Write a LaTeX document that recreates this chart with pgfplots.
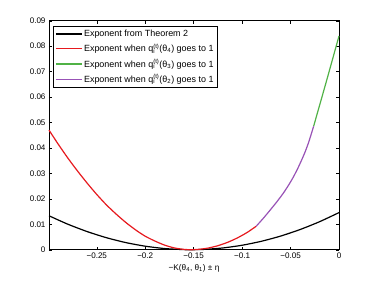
\documentclass[border=0pt]{standalone}
\usepackage{fontspec}
\setmainfont{Liberation Sans}
\usepackage{pgfplots}
\pgfplotsset{compat=1.18}
\definecolor{mred}{RGB}{230,25,30}
\definecolor{mgreen}{RGB}{80,178,70}
\definecolor{mpurple}{RGB}{152,82,182}
\newcommand{\qq}{q\rlap{\textsubscript{i}}\textsuperscript{(t)}}
\begin{document}
\begin{tikzpicture}
\begin{axis}[
  at={(0,0)}, anchor=south west,
  scale only axis, width=290bp, height=229bp,
  xmin=-0.2993, xmax=0, ymin=0, ymax=0.09,
  clip=false,
  xtick={-0.25,-0.2,-0.15,-0.1,-0.05,0},
  xticklabels={−0.25,−0.2,−0.15,−0.1,−0.05,0},
  ytick={0,0.01,0.02,0.03,0.04,0.05,0.06,0.07,0.08,0.09},
  yticklabels={0,0.01,0.02,0.03,0.04,0.05,0.06,0.07,0.08,0.09},
  scaled ticks=false,
  tick align=inside, tick pos=both, major tick length=3bp,
  tick style={black, line width=0.4bp},
  axis line style={black, line width=0.5bp},
  ticklabel style={font=\fontsize{8.1}{10}\selectfont},
  xlabel={−K(θ\textsubscript{4}, θ\textsubscript{1}) ± η},
  xlabel style={font=\fontsize{8.3}{10}\selectfont, at={(axis description cs:0.5,0)}, anchor=center, yshift=-18.3bp},
  legend cell align=left,
  legend style={at={(0,1)}, anchor=north west, xshift=4bp, yshift=-5.5bp,
    draw=black, line width=0.5bp, fill=white,
    font=\fontsize{9}{10}\selectfont,
    inner xsep=2bp, inner ysep=2bp, row sep=2.5bp,
    nodes={inner sep=1.6bp}},
  legend image code/.code={\draw[#1, line width=1.2bp] (0bp,0bp) -- (26bp,0bp);},
]
\addplot[black, line width=1.2bp, smooth, tension=0.4] coordinates {
(-0.2993,0.01333) (-0.28,0.01004) (-0.26,0.00713) (-0.24,0.00471)
(-0.22,0.00279) (-0.20,0.00138) (-0.18,0.000454) (-0.16,0.00003)
(-0.153,0) (-0.14,0.000105) (-0.12,0.000678) (-0.10,0.00175)
(-0.08,0.00332) (-0.06,0.00538) (-0.04,0.00795) (-0.02,0.01101) (0,0.01458)};
\addlegendentry{Exponent from Theorem 2}
\addplot[mred, line width=1.2bp, smooth, tension=0.4] coordinates {
(-0.2993,0.0470) (-0.29,0.0416) (-0.28,0.0361) (-0.27,0.0310) (-0.26,0.0262)
(-0.25,0.0217) (-0.24,0.0176) (-0.23,0.0140) (-0.22,0.0107) (-0.21,0.0078)
(-0.20,0.0053) (-0.19,0.0034) (-0.18,0.0018) (-0.17,0.0007) (-0.16,0.00012)
(-0.153,0) (-0.145,0.00013) (-0.135,0.00065) (-0.125,0.00157) (-0.115,0.00289)
(-0.105,0.00461) (-0.095,0.00673) (-0.0855,0.0092)};
\addlegendentry{Exponent when \qq(θ\textsubscript{4}) goes to 1}
\addplot[mgreen, line width=1.2bp, smooth, tension=0.4] coordinates {
(-0.0262,0.0485) (-0.013,0.0662) (0,0.0840)};
\addlegendentry{Exponent when \qq(θ\textsubscript{3}) goes to 1}
\addplot[mpurple, line width=1.2bp, smooth, tension=0.4] coordinates {
(-0.0855,0.0092) (-0.078,0.0124) (-0.0712,0.0155) (-0.064,0.0189) (-0.0575,0.0222)
(-0.052,0.0254) (-0.0472,0.0285) (-0.0425,0.0320) (-0.0385,0.0353)
(-0.035,0.0384) (-0.0317,0.0418) (-0.029,0.0450) (-0.0262,0.0485)};
\addlegendentry{Exponent when \qq(θ\textsubscript{2}) goes to 1}
\end{axis}
\pgfresetboundingbox
\path (-49bp,-31.3bp) rectangle (325bp,249.7bp);
\end{tikzpicture}
\end{document}
